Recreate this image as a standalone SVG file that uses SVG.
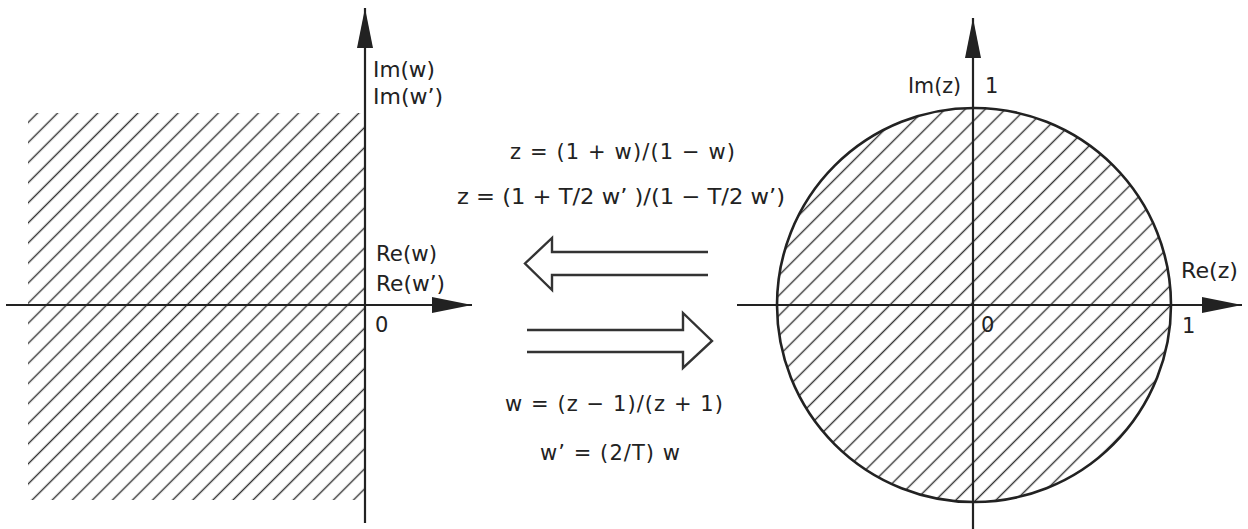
<svg xmlns="http://www.w3.org/2000/svg" width="1248" height="529" viewBox="0 0 1248 529">
<style>
.ax{stroke:#222;stroke-width:2.2;fill:none}
.bd{stroke:#222;stroke-width:2.6;fill:none}
.ar{stroke:#333;stroke-width:2.4;fill:none;stroke-linejoin:miter}
.t{font-family:"DejaVu Sans","Liberation Sans",Arial,sans-serif;font-size:21px;fill:#222}
</style>
<defs>
<pattern id="hatch" patternUnits="userSpaceOnUse" width="20" height="14.2" patternTransform="rotate(-45)">
<line x1="0" y1="7.1" x2="20" y2="7.1" stroke="#333" stroke-width="1.4"/>
</pattern>
<marker id="ah" markerUnits="userSpaceOnUse" markerWidth="42" markerHeight="18" refX="40" refY="8.5" orient="auto">
<path d="M0,0.5 L40,8.5 L0,16.5 z" fill="#222"/>
</marker>
</defs>
<rect width="1248" height="529" fill="#fff"/>

<g id="w-plane">
<rect x="28" y="113" width="337" height="387" fill="url(#hatch)"/>
<line class="ax" x1="6" y1="305" x2="472" y2="305" marker-end="url(#ah)"/>
<line class="ax" x1="365" y1="523" x2="365" y2="8" marker-end="url(#ah)"/>
<text class="t" x="373" y="77" textLength="62" lengthAdjust="spacingAndGlyphs">Im(w)</text>
<text class="t" x="373" y="104" textLength="70" lengthAdjust="spacingAndGlyphs">Im(w’)</text>
<text class="t" x="376" y="261" textLength="61" lengthAdjust="spacingAndGlyphs">Re(w)</text>
<text class="t" x="376" y="291" textLength="69" lengthAdjust="spacingAndGlyphs">Re(w’)</text>
<text class="t" x="375" y="332">0</text>
</g>

<g id="z-plane">
<circle cx="974" cy="305" r="197" fill="url(#hatch)"/>
<circle class="bd" cx="974" cy="305" r="197"/>
<line class="ax" x1="737" y1="305" x2="1242" y2="305" marker-end="url(#ah)"/>
<line class="ax" x1="973" y1="529" x2="973" y2="18" marker-end="url(#ah)"/>
<text class="t" x="908" y="93" textLength="53" lengthAdjust="spacingAndGlyphs">Im(z)</text>
<text class="t" x="985" y="93">1</text>
<text class="t" x="1181" y="278" textLength="57" lengthAdjust="spacingAndGlyphs">Re(z)</text>
<text class="t" x="1182" y="333">1</text>
<text class="t" x="981" y="332">0</text>
</g>

<g id="connectors">
<path class="ar" d="M708,252 L552,252 L552,238 L525,263.5 L552,290 L552,275 L708,275"/>
<path class="ar" d="M527,330 L683,330 L683,313 L712,341 L683,368 L683,352 L527,352"/>
</g>

<g id="formulas">
<text class="t" x="510" y="159" textLength="225" lengthAdjust="spacing">z = (1 + w)/(1 − w)</text>
<text class="t" x="457" y="204" textLength="328" lengthAdjust="spacingAndGlyphs">z = (1 + T/2 w’ )/(1 − T/2 w’)</text>
<text class="t" x="505" y="411" textLength="218" lengthAdjust="spacing">w = (z − 1)/(z + 1)</text>
<text class="t" x="540" y="460" textLength="140" lengthAdjust="spacing">w’ = (2/T) w</text>
</g>
</svg>
